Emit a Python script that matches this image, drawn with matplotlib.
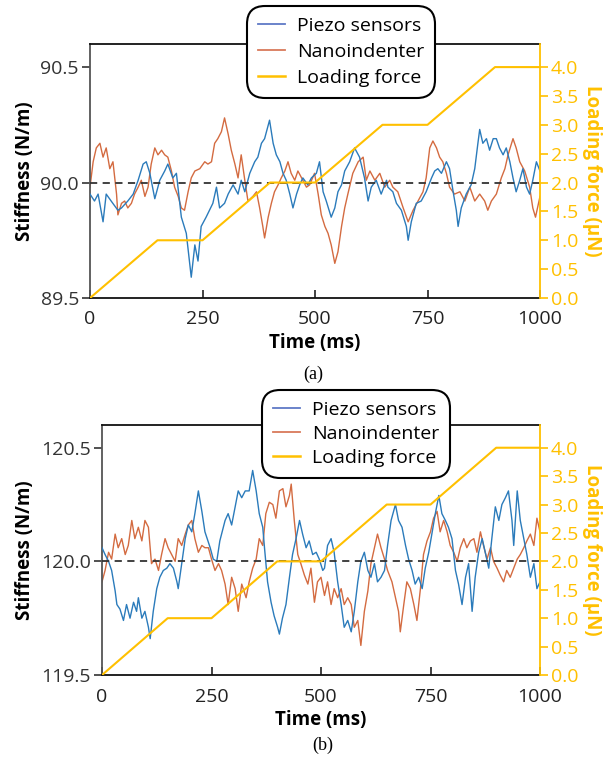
import numpy as np
import matplotlib
matplotlib.use("Agg")
import matplotlib.pyplot as plt
from matplotlib.lines import Line2D

plt.rcParams['font.family'] = ['Open Sans', 'DejaVu Sans']

# ---- loading force (right axis), same for both panels ----
force_t = [0, 150, 250, 400, 500, 650, 750, 900, 1000]
force_v = [0, 1, 1, 2, 2, 3, 3, 4, 4]

# ---- panel (a): stiffness around 90 N/m ----
a_piezo_t = [0, 10, 18, 29, 36, 47, 62, 70, 84, 96, 107, 118, 125, 133, 144, 155, 166, 173,
             184, 192, 203, 214, 225, 233, 240, 247, 258, 273, 281, 288, 299, 307, 318, 329,
             336, 344, 355, 366, 373, 381, 388, 399, 407, 414, 422, 429, 436, 444, 451, 459,
             466, 473, 484, 492, 503, 510, 518, 525, 536, 544, 551, 559, 566, 577, 588, 599,
             610, 618, 625, 636, 647, 659, 662, 673, 681, 692, 703, 707, 714, 725, 736, 747,
             759, 766, 773, 781, 792, 799, 807, 814, 818, 825, 836, 847, 855, 862, 866, 873,
             881, 888, 896, 903, 910, 918, 925, 933, 940, 947, 955, 962, 970, 977, 984, 992, 1000]
a_piezo_v = [89.95, 89.92, 89.95, 89.83, 89.95, 89.92, 89.88, 89.89, 89.92, 89.95, 90.01, 90.08,
             90.09, 90.04, 89.93, 90.01, 90.05, 90.08, 90.02, 90.04, 89.85, 89.78, 89.59, 89.73,
             89.66, 89.81, 89.85, 89.91, 89.98, 89.89, 89.91, 89.95, 89.99, 89.95, 90.01, 89.96,
             90.04, 90.09, 90.11, 90.17, 90.19, 90.27, 90.17, 90.12, 90.09, 90.04, 90.01, 89.95,
             89.89, 89.95, 89.99, 90.02, 89.99, 90.02, 90.04, 90.09, 89.96, 89.92, 89.85, 89.89,
             89.96, 89.99, 90.05, 90.09, 90.15, 90.11, 90.02, 89.92, 89.98, 90.01, 89.95, 90.01,
             89.98, 89.96, 89.91, 89.88, 89.81, 89.75, 89.83, 89.91, 89.92, 89.96, 90.02, 90.05,
             90.06, 90.04, 90.09, 90.06, 89.96, 89.88, 89.81, 89.89, 89.95, 89.99, 90.06, 90.17,
             90.23, 90.17, 90.19, 90.14, 90.19, 90.19, 90.15, 90.12, 90.15, 90.09, 90.02, 89.96,
             90.01, 90.06, 89.98, 89.95, 90.01, 90.09, 90.05]

a_nano_t = [0, 7, 14, 22, 29, 36, 44, 51, 59, 62, 70, 77, 84, 92, 99, 107, 114, 122, 129, 136,
            144, 151, 159, 166, 173, 181, 188, 196, 203, 210, 218, 225, 233, 244, 255, 262, 270,
            277, 284, 292, 299, 307, 314, 322, 329, 336, 344, 351, 362, 370, 377, 384, 388, 396,
            403, 410, 418, 425, 433, 440, 447, 455, 462, 473, 481, 488, 499, 507, 514, 522, 529,
            536, 544, 551, 559, 566, 573, 584, 596, 607, 614, 622, 633, 644, 655, 666, 673, 684,
            696, 707, 718, 729, 740, 747, 755, 762, 770, 777, 784, 792, 799, 810, 822, 833, 844,
            855, 866, 877, 884, 892, 903, 914, 922, 929, 940, 947, 955, 966, 977, 984, 990, 1000]
a_nano_v = [89.98, 90.09, 90.15, 90.17, 90.11, 90.15, 90.06, 90.09, 89.95, 89.86, 89.91, 89.92,
            89.89, 89.91, 89.95, 89.98, 90.01, 89.94, 89.98, 90.08, 90.15, 90.12, 90.14, 90.12,
            90.11, 90.05, 89.98, 89.94, 89.89, 89.88, 89.96, 90.02, 90.05, 90.06, 90.09, 90.08,
            90.09, 90.17, 90.19, 90.22, 90.28, 90.21, 90.14, 90.08, 90.02, 90.12, 90.01, 89.92,
            89.94, 89.96, 89.89, 89.81, 89.76, 89.85, 89.91, 89.96, 89.99, 90.02, 90.05, 90.09,
            90.04, 90.01, 90.05, 90.01, 89.98, 89.99, 90.04, 89.95, 89.86, 89.81, 89.78, 89.73,
            89.65, 89.70, 89.81, 89.89, 89.95, 90.04, 90.09, 90.11, 90.01, 90.05, 90.01, 90.04,
            89.98, 90.01, 89.98, 89.96, 89.89, 89.83, 89.88, 89.92, 89.96, 90.02, 90.15, 90.18,
            90.15, 90.11, 90.09, 90.04, 89.98, 89.95, 89.96, 89.92, 89.98, 89.92, 89.95, 89.92,
            89.88, 89.92, 89.95, 90.02, 90.06, 90.12, 90.19, 90.15, 90.09, 90.05, 89.98, 89.89,
            89.85, 89.94]

# ---- panel (b): stiffness around 120 N/m ----
b_piezo_t = [0, 7, 15, 22, 30, 34, 41, 49, 56, 64, 72, 79, 83, 91, 98, 106, 110, 117, 125, 132,
             140, 148, 155, 163, 171, 174, 182, 190, 197, 205, 212, 220, 228, 235, 247, 254, 262,
             269, 281, 288, 296, 304, 311, 319, 327, 336, 344, 352, 359, 367, 371, 378, 386, 393,
             401, 405, 412, 420, 428, 435, 443, 451, 458, 466, 473, 481, 489, 496, 504, 508, 515,
             523, 530, 538, 546, 553, 561, 569, 576, 584, 591, 599, 607, 614, 622, 629, 637, 645,
             652, 660, 670, 677, 685, 693, 700, 708, 715, 723, 731, 738, 746, 753, 761, 769, 776,
             784, 791, 799, 807, 814, 822, 830, 837, 845, 852, 860, 868, 875, 883, 890, 898, 906,
             913, 921, 928, 936, 940, 948, 955, 963, 970, 978, 986, 993, 1000]
b_piezo_v = [120.06, 120.03, 120.00, 119.96, 119.87, 119.81, 119.79, 119.74, 119.81, 119.75,
             119.82, 119.78, 119.84, 119.75, 119.78, 119.71, 119.66, 119.78, 119.88, 119.93,
             119.96, 119.97, 119.99, 119.97, 119.91, 119.88, 119.99, 120.10, 120.16, 120.13,
             120.21, 120.31, 120.22, 120.13, 120.06, 120.01, 120.00, 120.09, 120.18, 120.21,
             120.16, 120.24, 120.31, 120.28, 120.31, 120.31, 120.40, 120.31, 120.21, 120.15,
             120.06, 119.91, 119.82, 119.76, 119.71, 119.68, 119.75, 119.81, 119.93, 120.03,
             120.10, 120.18, 120.12, 120.06, 120.09, 120.03, 120.04, 120.01, 119.96, 119.97,
             120.07, 120.10, 120.04, 119.91, 119.81, 119.71, 119.74, 119.69, 119.78, 119.91,
             120.00, 120.04, 119.96, 119.93, 119.99, 119.91, 119.93, 119.96, 120.07, 120.18,
             120.25, 120.18, 120.15, 120.07, 120.01, 119.96, 119.90, 119.93, 119.88, 119.97,
             120.04, 120.12, 120.21, 120.29, 120.21, 120.18, 120.15, 120.10, 119.96, 119.90,
             119.81, 119.93, 119.99, 119.78, 119.93, 120.04, 120.10, 120.04, 119.97, 120.10,
             120.24, 120.18, 120.25, 120.28, 120.31, 120.18, 120.07, 120.31, 120.18, 120.10,
             120.03, 119.93, 119.99, 119.88, 119.91]

b_nano_t = [0, 7, 15, 22, 30, 37, 45, 53, 60, 68, 75, 83, 91, 98, 106, 113, 121, 129, 136, 144,
            151, 159, 167, 174, 182, 190, 197, 205, 212, 220, 228, 235, 243, 250, 258, 266, 273,
            281, 288, 296, 304, 311, 319, 329, 336, 344, 352, 359, 367, 374, 382, 390, 397, 405,
            413, 420, 428, 432, 439, 447, 454, 462, 470, 477, 485, 492, 500, 508, 515, 523, 530,
            538, 546, 553, 561, 569, 576, 584, 591, 599, 607, 614, 622, 629, 637, 645, 652, 662,
            670, 677, 681, 689, 696, 704, 712, 719, 727, 734, 742, 750, 757, 765, 772, 780, 788,
            795, 803, 811, 818, 826, 833, 841, 849, 856, 864, 871, 879, 887, 894, 902, 909, 917,
            924, 932, 940, 948, 955, 963, 970, 978, 986, 993, 1000]
b_nano_v = [119.91, 119.96, 120.04, 120.01, 120.12, 120.06, 120.10, 120.03, 120.07, 120.18,
            120.10, 120.15, 120.09, 120.18, 120.15, 119.99, 120.01, 119.96, 120.03, 120.10,
            120.06, 120.03, 120.00, 120.10, 120.07, 120.12, 120.16, 120.18, 120.10, 120.04,
            120.07, 120.06, 120.06, 120.01, 119.96, 119.99, 119.96, 119.90, 119.81, 119.93,
            119.88, 119.78, 119.90, 119.84, 119.91, 119.97, 120.01, 120.10, 120.07, 120.21,
            120.26, 120.25, 120.19, 120.31, 120.32, 120.24, 120.29, 120.34, 120.18, 120.03,
            119.99, 119.94, 119.90, 119.97, 119.82, 119.91, 119.93, 119.85, 119.91, 119.81,
            119.88, 119.84, 119.88, 119.81, 119.84, 119.81, 119.71, 119.74, 119.63, 119.78,
            119.87, 119.99, 120.06, 120.12, 120.06, 120.01, 119.96, 119.91, 119.84, 119.78,
            119.69, 119.81, 119.91, 119.88, 119.81, 119.74, 119.88, 120.03, 120.09, 120.13,
            120.19, 120.22, 120.13, 120.18, 120.13, 120.07, 120.04, 120.00, 120.06, 120.10,
            120.06, 120.09, 120.10, 120.04, 120.13, 120.07, 120.01, 120.06, 120.00, 119.97,
            119.94, 119.91, 119.96, 119.93, 119.97, 120.01, 120.03, 120.06, 120.09, 120.12,
            120.07, 120.19, 120.13]

BLUE = "#2b7bbb"
ORANGE = "#cf5b2c"
GOLD = "#ffc000"

fig = plt.figure(figsize=(6.08, 7.58), dpi=100)


def draw_panel(rect, base, piezo_t, piezo_v, nano_t, nano_v, legend_center, caption, caption_xy,
               row_gap):
    ax = fig.add_axes(rect)
    ax.plot(piezo_t, piezo_v, color=BLUE, lw=1.0, zorder=3)
    ax.plot(nano_t, nano_v, color=ORANGE, lw=1.0, alpha=0.9, zorder=2)
    ax.axhline(base, color="#333333", lw=1.3, ls=(0, (4, 3)), zorder=4)
    ax.set_xlim(0, 1000)
    ax.set_ylim(base - 0.5, base + 0.6)
    ax.set_xticks([0, 250, 500, 750, 1000])
    ax.set_yticks([base - 0.5, base, base + 0.5])
    ax.set_yticklabels([f"{v:.1f}" for v in (base - 0.5, base, base + 0.5)])
    ax.tick_params(axis="x", direction="in", length=6, width=1.2, labelsize=14, pad=9,
                   colors="#222222")
    ax.tick_params(axis="y", direction="out", length=6, width=1.2, labelsize=14, pad=2,
                   colors="#333333")
    ax.set_xlabel("Time (ms)", fontsize=13.5, fontweight="bold", labelpad=3)
    ax.set_ylabel("Stiffness (N/m)", fontsize=13.5, fontweight="bold", labelpad=4)
    for side in ("top", "bottom"):
        ax.spines[side].set_color("#111111")
        ax.spines[side].set_linewidth(1.3)
    ax.spines["left"].set_color("#555555")
    ax.spines["left"].set_linewidth(1.3)
    ax.spines["right"].set_visible(False)

    ax2 = ax.twinx()
    ax2.plot(force_t, force_v, color=GOLD, lw=1.5, zorder=5)
    ax2.set_ylim(0, 4.4)
    ax2.set_yticks(np.arange(0, 4.01, 0.5))
    ax2.set_yticklabels([f"{v:.1f}" for v in np.arange(0, 4.01, 0.5)])
    ax2.tick_params(axis="y", direction="out", length=6, width=1.2, labelsize=14, pad=2,
                    colors=GOLD)
    ax2.set_ylabel("Loading force (\u03bcN)", fontsize=13.5, fontweight="bold", color=GOLD,
                   rotation=270, labelpad=17)
    for side in ("top", "bottom", "left"):
        ax2.spines[side].set_visible(False)
    ax2.spines["right"].set_color(GOLD)
    ax2.spines["right"].set_linewidth(1.3)

    handles = [Line2D([], [], color="#5f79c6", lw=1.3),
               Line2D([], [], color="#d97a5a", lw=1.3),
               Line2D([], [], color=GOLD, lw=1.8)]
    leg = ax2.legend(handles, ["Piezo sensors", "Nanoindenter", "Loading force"],
                     loc="center", bbox_to_anchor=legend_center,
                     bbox_transform=fig.transFigure, fontsize=14, frameon=True,
                     fancybox=True, framealpha=1, edgecolor="black", handlelength=1.4,
                     handletextpad=0.6, labelspacing=row_gap, borderpad=0.3)
    leg.get_frame().set_linewidth(1.5)
    leg.get_frame().set_boxstyle("round,pad=0.25,rounding_size=0.9")
    leg.set_zorder(10)

    fig.text(caption_xy[0], caption_xy[1], caption, ha="center", va="center",
             fontsize=13, family="Liberation Serif")


draw_panel([90 / 608, 1 - 298 / 758, 450 / 608, 254 / 758], 90.0,
           a_piezo_t, a_piezo_v, a_nano_t, a_nano_v,
           (341 / 608, 1 - 52 / 758), "(a)", (313 / 608, 1 - 374 / 758), 0.42)
draw_panel([102 / 608, 1 - 675 / 758, 438 / 608, 250 / 758], 120.0,
           b_piezo_t, b_piezo_v, b_nano_t, b_nano_v,
           (356 / 608, 1 - 434 / 758), "(b)", (323 / 608, 1 - 745 / 758), 0.3)

fig.savefig("out.png", dpi=100)
